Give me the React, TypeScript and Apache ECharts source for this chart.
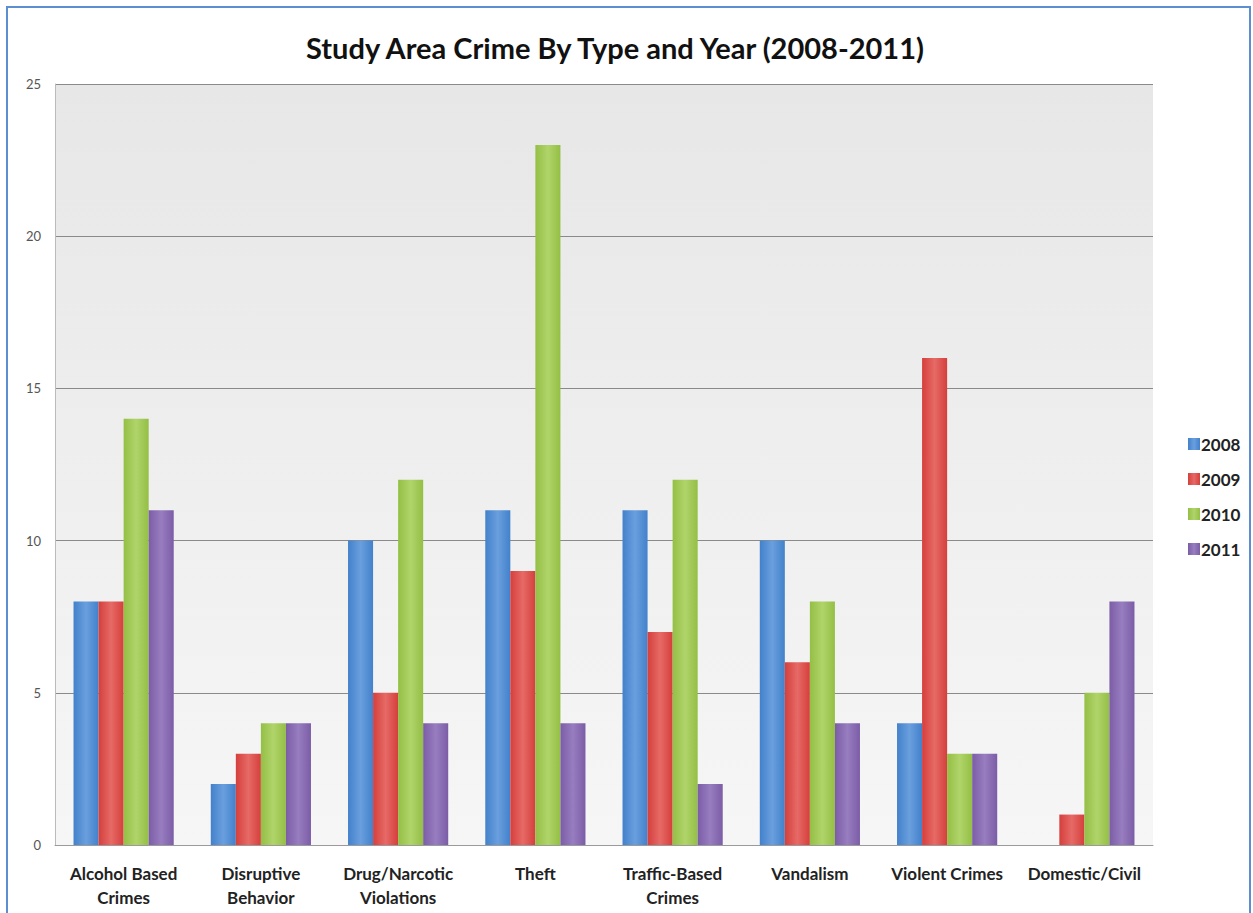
import React, { useEffect, useRef } from "react";
import * as echarts from "echarts";

const categories = [
  "Alcohol Based\nCrimes",
  "Disruptive\nBehavior",
  "Drug/Narcotic\nViolations",
  "Theft",
  "Traffic-Based\nCrimes",
  "Vandalism",
  "Violent Crimes",
  "Domestic/Civil",
];
const years = ["2008", "2009", "2010", "2011"];
const v2008 = [8, 2, 10, 11, 11, 10, 4, 0];
const v2009 = [8, 3, 5, 9, 7, 6, 16, 1];
const v2010 = [14, 4, 12, 23, 12, 8, 3, 5];
const v2011 = [11, 4, 4, 4, 2, 4, 3, 8];
const seriesValues = [v2008, v2009, v2010, v2011];
const colors = ["#4281cb", "#d53f3c", "#94bf45", "#7b5da6"];
const lightColors = ["#6a9fde", "#e66a66", "#b0d46a", "#987dc0"];

export default function App() {
  const ref = useRef<HTMLDivElement>(null);
  useEffect(() => {
    const chart = echarts.init(ref.current!, undefined, { renderer: "svg" });
    const font = "Lato, 'Open Sans', sans-serif";
    chart.setOption({
      animation: false,
      backgroundColor: "#ffffff",
      title: {
        text: "Study Area Crime By Type and Year (2008-2011)",
        left: 610,
        textAlign: "center",
        top: 28,
        textStyle: { fontFamily: font, fontSize: 29, fontWeight: "bold", color: "#111" },
      },
      legend: {
        orient: "vertical",
        left: 1183,
        top: 429,
        itemWidth: 12,
        itemHeight: 12,
        itemGap: 15,
        icon: "rect",
        textStyle: {
          fontFamily: font,
          fontSize: 17,
          fontWeight: "bold",
          color: "#222",
          lineHeight: 20,
          padding: [0, 0, 0, -4],
        },
        data: years,
      },
      grid: {
        left: 55,
        right: 100,
        top: 84,
        bottom: 68,
        show: true,
        borderWidth: 0,
        backgroundColor: new echarts.graphic.LinearGradient(0, 0, 0, 1, [
          { offset: 0, color: "#e7e7e7" },
          { offset: 1, color: "#f6f6f6" },
        ]),
      },
      xAxis: {
        type: "category",
        data: categories,
        axisLine: { show: true, lineStyle: { color: "#9a9a9a" } },
        axisTick: { show: false },
        axisLabel: {
          interval: 0,
          margin: 16,
          fontFamily: font,
          fontSize: 17,
          fontWeight: "bold",
          color: "#222",
          lineHeight: 24,
        },
      },
      yAxis: {
        type: "value",
        min: 0,
        max: 25,
        interval: 5,
        axisLine: { show: true, lineStyle: { color: "#bbbbbb" } },
        axisTick: { show: false },
        splitLine: { lineStyle: { color: "#8a8a8a", width: 1 } },
        axisLabel: { margin: 14, fontFamily: font, fontSize: 13, color: "#555" },
      },
      series: years.map((y, i) => ({
        name: y,
        type: "bar",
        data: seriesValues[i],
        barGap: "0%",
        barCategoryGap: "27%",
        itemStyle: {
          color: new echarts.graphic.LinearGradient(0, 0, 1, 0, [
            { offset: 0, color: colors[i] },
            { offset: 0.5, color: lightColors[i] },
            { offset: 1, color: colors[i] },
          ]),
        },
      })),
      graphic: [
        {
          type: "rect",
          shape: { x: 7, y: 7, width: 1243, height: 920 },
          style: { fill: "none", stroke: "#5b8fd0", lineWidth: 2 },
          silent: true,
        },
      ],
    });
    return () => chart.dispose();
  }, []);
  return (
    <div
      ref={ref}
      style={{ position: "absolute", left: 0, top: 0, width: 1253, height: 913 }}
    />
  );
}
